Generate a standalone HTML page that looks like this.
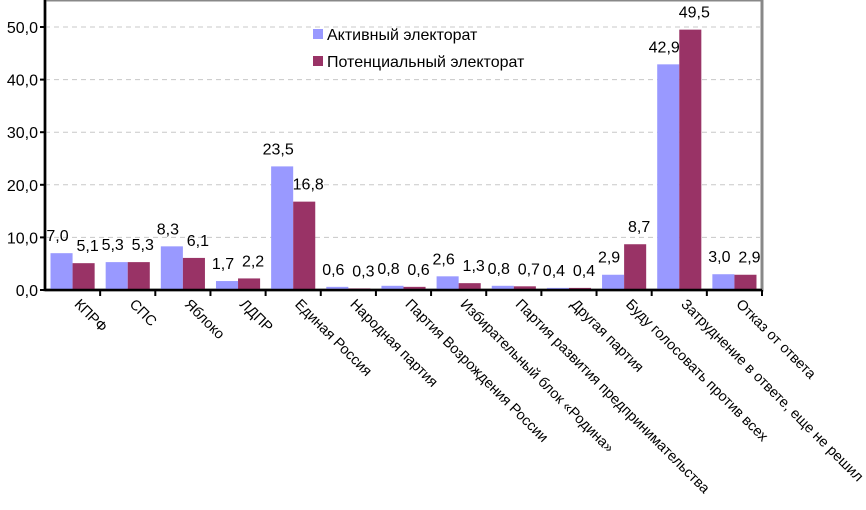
<!DOCTYPE html>
<html><head><meta charset="utf-8"><style>
body{margin:0;background:#fff;}
svg text{font-family:"Liberation Sans",sans-serif;fill:#000;}
</style></head><body>
<svg id="chart" width="866" height="505" xmlns="http://www.w3.org/2000/svg">
<rect x="45" y="0" width="717" height="290" fill="#fff" stroke="#888" stroke-width="3"/>
<g id="grid"></g><g id="bars"></g><g id="labels"></g><g id="axes"></g>
<g>
<rect x="313" y="29" width="10" height="10" fill="#9999ff"/>
<text x="327" y="40" font-size="16">Активный электорат</text>
<rect x="313" y="56" width="10" height="10" fill="#993366"/>
<text x="327" y="67" font-size="16">Потенциальный электорат</text>
</g>
</svg>
<script>
const categories=["КПРФ","СПС","Яблоко","ЛДПР","Единая Россия","Народная партия","Партия Возрождения России","Избирательный блок «Родина»","Партия развития предпринимательства","Другая партия","Буду голосовать против всех","Затруднение в ответе, еще не решил","Отказ от ответа"];
const active=[7.0,5.3,8.3,1.7,23.5,0.6,0.8,2.6,0.8,0.4,2.9,42.9,3.0];
const potential=[5.1,5.3,6.1,2.2,16.8,0.3,0.6,1.3,0.7,0.4,8.7,49.5,2.9];
const yTicks=[0,10,20,30,40,50];
const NS="http://www.w3.org/2000/svg";
const X0=45,X1=762,Y0=290,Y50=27;
const cw=(X1-X0)/categories.length;
const y=v=>Y0-(v/50)*(Y0-Y50);
const fmt=v=>v.toFixed(1).replace('.',',');
function mk(tag,attrs,parent){const e=document.createElementNS(NS,tag);for(const k in attrs)e.setAttribute(k,attrs[k]);document.getElementById(parent).appendChild(e);return e;}
yTicks.forEach(t=>{
  if(t>0){const g=mk('line',{x1:X0,x2:X1,y1:y(t),y2:y(t),stroke:'#c8c8c8','stroke-dasharray':'5,4'},'grid');
  
  }
  const tk=mk('line',{x1:X0-5,x2:X0,y1:y(t),y2:y(t),stroke:'#000','stroke-width':2},'axes');
  
  
  const tl=mk('text',{x:X0-7,y:y(t)+6,'font-size':16,'text-anchor':'end'},'axes');
  tl.textContent=fmt(t);
  
  
});
const ya=mk('line',{x1:X0,x2:X0,y1:0,y2:Y0+1,stroke:'#000','stroke-width':2.5},'axes');


const xa=mk('line',{x1:X0,x2:X1,y1:Y0,y2:Y0,stroke:'#000','stroke-width':2.5},'axes');


const bw=cw*0.4;
categories.forEach((c,i)=>{
  const cx=X0+cw*i+cw/2;
  const tk=mk('line',{x1:X0+cw*(i+1),x2:X0+cw*(i+1),y1:Y0,y2:Y0+6,stroke:'#000','stroke-width':2},'axes');
  
  
  [[active[i],'#9999ff',cx-bw,'active',-4],[potential[i],'#993366',cx,'potential',4]].forEach(([v,col,bx,s,dx])=>{
    const r=mk('rect',{x:bx,y:y(v),width:bw,height:Y0-y(v),fill:col},'bars');
    
    
    const l=mk('text',{x:bx+bw/2+dx,y:y(v)-12,'font-size':16,'text-anchor':'middle'},'labels');
    l.textContent=fmt(v);
    
    
  });
  const t=mk('text',{x:0,y:0,'font-size':14.5,transform:`translate(${cx+1},${Y0+15}) rotate(45)`},'axes');
  t.textContent=c;
  
  
});
</script>
</body></html>
